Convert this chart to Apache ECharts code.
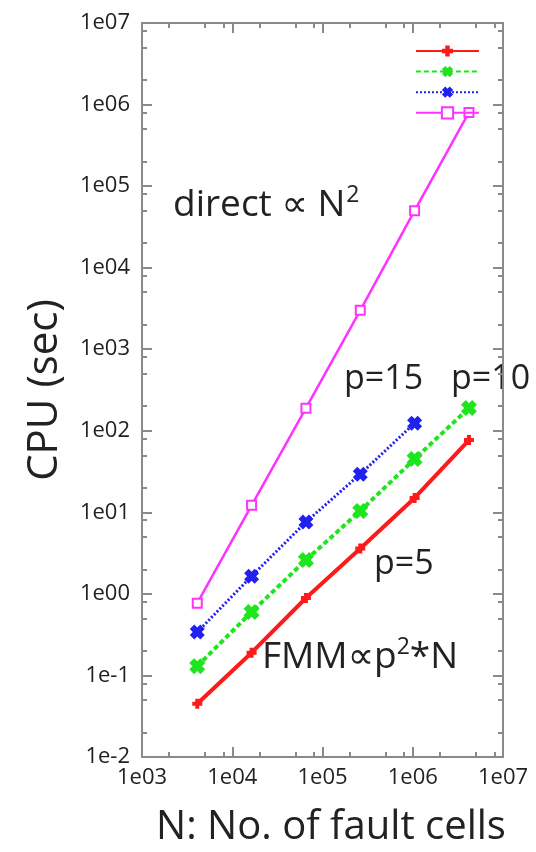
<!DOCTYPE html>
<html>
<head>
<meta charset="utf-8">
<script src="https://cdn.jsdelivr.net/npm/echarts@6/dist/echarts.min.js"></script>
<style>html,body{margin:0;padding:0;background:#fff}#c{width:536px;height:852px}</style>
</head>
<body>
<div id="c"></div>
<script>
// ---- data ----
const N = [4096, 16384, 65536, 262144, 1048576, 4194304];
const p5 = [0.045, 0.19, 0.89, 3.6, 15, 77];
const p10 = [0.13, 0.60, 2.6, 10.4, 45, 190];
const p15 = [0.34, 1.65, 7.6, 29.4, 124];
const direct = [0.77, 12.2, 189, 3000, 50000, 800000];
const seriesNames = ['p=5', 'p=10', 'p=15', 'direct'];
const xTicks = [1e3, 1e4, 1e5, 1e6, 1e7];
const xTickLabels = ['1e03', '1e04', '1e05', '1e06', '1e07'];
const yTicks = [1e-2, 1e-1, 1e0, 1e1, 1e2, 1e3, 1e4, 1e5, 1e6, 1e7];
const yTickLabels = ['1e-2', '1e-1', '1e00', '1e01', '1e02', '1e03', '1e04', '1e05', '1e06', '1e07'];
const minorMult = [2, 5, 8];

function minors(ticks) {
  const out = [];
  for (let i = 0; i < ticks.length - 1; i++) minorMult.forEach(m => out.push(ticks[i] * m));
  return out;
}
function labelFor(ticks, labels) {
  return v => {
    for (let i = 0; i < ticks.length; i++) if (Math.abs(Math.log10(v) - Math.log10(ticks[i])) < 1e-6) return labels[i];
    return '';
  };
}
const FONT = '"Open Sans", "DejaVu Sans", sans-serif';
const AX = '#8a8a8a';

function xAx(pos, grid, major, label) {
  return {
    type: 'log', gridIndex: grid, position: pos, min: xTicks[0], max: xTicks[xTicks.length - 1], logBase: 10,
    axisLine: {show: true, lineStyle: {color: AX, width: 2}},
    axisTick: {show: true, inside: true, length: major ? 10 : 5, lineStyle: {color: AX, width: 2},
      customValues: major ? xTicks : minors(xTicks)},
    axisLabel: {show: label, customValues: xTicks, formatter: labelFor(xTicks, xTickLabels),
      fontSize: 22, color: '#222', fontFamily: FONT, margin: 10},
    splitLine: {show: false}, minorTick: {show: false}
  };
}
function yAx(pos, grid, major, label) {
  return {
    type: 'log', gridIndex: grid, position: pos, min: yTicks[0], max: yTicks[yTicks.length - 1], logBase: 10,
    axisLine: {show: true, lineStyle: {color: AX, width: 2}},
    axisTick: {show: true, inside: true, length: major ? 10 : 5, lineStyle: {color: AX, width: 2},
      customValues: major ? yTicks : minors(yTicks)},
    axisLabel: {show: label, customValues: yTicks, formatter: labelFor(yTicks, yTickLabels),
      fontSize: 22, color: '#222', fontFamily: FONT, margin: 12},
    splitLine: {show: false}, minorTick: {show: false}
  };
}
const pts = (xs, ys) => ys.map((y, i) => [xs[i], y]);
const XMARK = 'path://M0,3 L3,0 L5,2 L7,0 L10,3 L8,5 L10,7 L7,10 L5,8 L3,10 L0,7 L2,5 Z';
const PLUS = 'path://M3,0 L7,0 L7,3 L10,3 L10,7 L7,7 L7,10 L3,10 L3,7 L0,7 L0,3 L3,3 Z';

const chart = echarts.init(document.getElementById('c'), null, {renderer: 'canvas'});
const grid = {left: 142, right: 33, top: 23, bottom: 95};
chart.setOption({
  animation: false,
  backgroundColor: '#fff',
  grid: [Object.assign({}, grid), Object.assign({}, grid)],
  xAxis: [xAx('bottom', 0, true, true), xAx('top', 0, true, false), xAx('bottom', 1, false, false), xAx('top', 1, false, false)],
  yAxis: [yAx('left', 0, true, true), yAx('right', 0, true, false), yAx('left', 1, false, false), yAx('right', 1, false, false)],
  legend: {
    orient: 'vertical', left: 410, top: 39, itemWidth: 63, itemHeight: 14, itemGap: 8,
    formatter: () => '', textStyle: {fontSize: 1}, data: seriesNames
  },
  series: [
    {name: seriesNames[0], type: 'line', data: pts(N, p5), symbol: PLUS, symbolSize: 10,
      itemStyle: {color: '#ff1a1a'}, lineStyle: {color: '#ff1a1a', width: 4}},
    {name: seriesNames[1], type: 'line', data: pts(N, p10), symbol: XMARK, symbolSize: 16,
      itemStyle: {color: '#1ee61e'}, lineStyle: {color: '#1ee61e', width: 4, type: [5, 3]}},
    {name: seriesNames[2], type: 'line', data: pts(N, p15), symbol: XMARK, symbolSize: 15,
      itemStyle: {color: '#2020f0'}, lineStyle: {color: '#2020f0', width: 3, type: [2, 2]}},
    {name: seriesNames[3], type: 'line', data: pts(N, direct), symbol: 'emptyRect', symbolSize: 9,
      itemStyle: {color: '#ff33ff', borderWidth: 1}, lineStyle: {color: '#ff33ff', width: 2.5}},
    {name: 'minor-axes', type: 'line', xAxisIndex: 2, yAxisIndex: 2, data: [], silent: true, symbol: 'none'}
  ],
  graphic: [
    {type: 'text', left: 173, top: 184, style: {text: '{a|direct ∝ N}{s|2}', fill: '#222',
      rich: {a: {fontSize: 37, fontFamily: FONT, fill: '#222'}, s: {fontSize: 23, fontFamily: FONT, fill: '#222', padding: [0, 0, 20, 1]}}}},
    {type: 'text', left: 344, top: 362, style: {text: 'p=15', fontSize: 34, fontFamily: FONT, fill: '#222'}},
    {type: 'text', left: 451, top: 362, style: {text: 'p=10', fontSize: 34, fontFamily: FONT, fill: '#222'}},
    {type: 'text', left: 374, top: 547, style: {text: 'p=5', fontSize: 34, fontFamily: FONT, fill: '#222'}},
    {type: 'text', left: 262, top: 636, style: {text: '{a|FMM∝p}{s|2}{a|*N}', fill: '#222',
      rich: {a: {fontSize: 37, fontFamily: FONT, fill: '#222'}, s: {fontSize: 23, fontFamily: FONT, fill: '#222', padding: [0, 0, 20, 0]}}}},
    {type: 'text', x: 45, y: 390, rotation: Math.PI / 2, style: {text: 'CPU (sec)', fontSize: 42, fontFamily: FONT, fill: '#222', align: 'center', verticalAlign: 'middle'}},
    {type: 'text', x: 331, y: 828, style: {text: 'N: No. of fault cells', fontSize: 40, fontFamily: FONT, fill: '#222', align: 'center', verticalAlign: 'middle'}}
  ]
});
</script>
</body>
</html>
